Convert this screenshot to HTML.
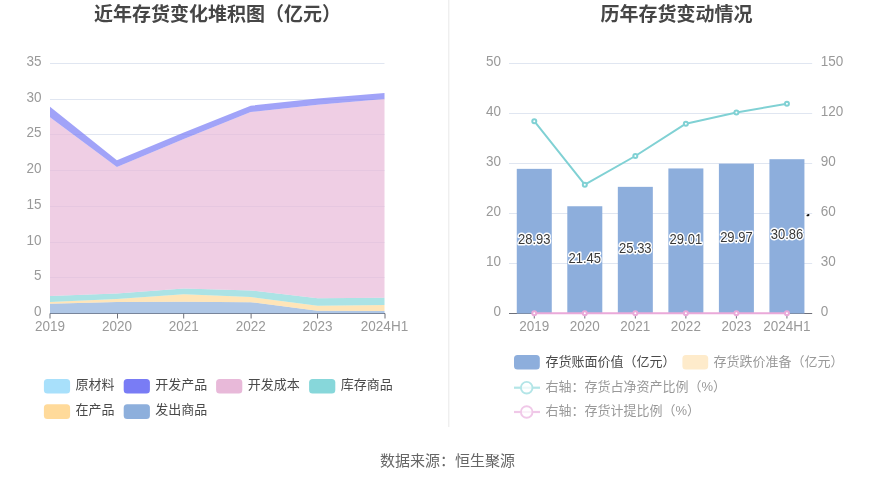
<!DOCTYPE html>
<html><head><meta charset="utf-8"><title>存货</title>
<style>
html,body{margin:0;padding:0;background:#fff;}
body{width:893px;height:481px;overflow:hidden;}
svg{display:block;}
text{font-family:"Liberation Sans", "Noto Sans CJK SC", sans-serif;}
.ax{font-size:13.5px;fill:#999;}
.ttl{font-size:19px;font-weight:bold;fill:#464646;}
.lg{font-size:13px;}
.bl{font-size:13px;fill:#383838;stroke:#fff;stroke-width:2.6px;paint-order:stroke;stroke-linejoin:round;}
.src{font-size:15px;fill:#666;}
</style></head><body>
<svg width="893" height="481" viewBox="0 0 893 481">
<line x1="50" y1="277.5" x2="384.5" y2="277.5" stroke="#E0E6F1" stroke-width="1"/>
<line x1="50" y1="242.5" x2="384.5" y2="242.5" stroke="#E0E6F1" stroke-width="1"/>
<line x1="50" y1="206.5" x2="384.5" y2="206.5" stroke="#E0E6F1" stroke-width="1"/>
<line x1="50" y1="170.5" x2="384.5" y2="170.5" stroke="#E0E6F1" stroke-width="1"/>
<line x1="50" y1="134.5" x2="384.5" y2="134.5" stroke="#E0E6F1" stroke-width="1"/>
<line x1="50" y1="99.5" x2="384.5" y2="99.5" stroke="#E0E6F1" stroke-width="1"/>
<line x1="50" y1="63.5" x2="384.5" y2="63.5" stroke="#E0E6F1" stroke-width="1"/>
<line x1="50" y1="313.5" x2="385" y2="313.5" stroke="#6E7079" stroke-width="1"/>
<path d="M50,303.7 L116.9,301.9 L183.8,301.7 L250.7,302.2 L317.6,310.7 L384.5,311.1 L384.5,313.5 L317.6,313.5 L250.7,313.5 L183.8,313.5 L116.9,313.5 L50,313.5 Z" fill="#8DAFDC" fill-opacity="0.7"/>
<path d="M50,302 L116.9,299.1 L183.8,294.2 L250.7,297.1 L317.6,305.7 L384.5,305.1 L384.5,311.1 L317.6,310.7 L250.7,302.2 L183.8,301.7 L116.9,301.9 L50,303.7 Z" fill="#FFDA9A" fill-opacity="0.7"/>
<path d="M50,296.1 L116.9,293.5 L183.8,288.4 L250.7,290.4 L317.6,298.3 L384.5,297.8 L384.5,305.1 L317.6,305.7 L250.7,297.1 L183.8,294.2 L116.9,299.1 L50,302 Z" fill="#87D7DA" fill-opacity="0.7"/>
<path d="M50,117.3 L116.9,167 L183.8,139 L250.7,112.1 L317.6,104.7 L384.5,99.1 L384.5,297.8 L317.6,298.3 L250.7,290.4 L183.8,288.4 L116.9,293.5 L50,296.1 Z" fill="#E8B9D9" fill-opacity="0.7"/>
<path d="M50,106.86 L116.9,160.29 L183.8,132.57 L250.7,105.7 L317.6,98.6 L384.5,93.07 L384.5,99.1 L317.6,104.7 L250.7,112.1 L183.8,139 L116.9,167 L50,117.3 Z" fill="#797CF5" fill-opacity="0.7"/>
<line x1="50" y1="313.5" x2="50" y2="318.5" stroke="#6E7079" stroke-width="1"/>
<line x1="117.5" y1="313.5" x2="117.5" y2="318.5" stroke="#6E7079" stroke-width="1"/>
<line x1="183.7" y1="313.5" x2="183.7" y2="318.5" stroke="#6E7079" stroke-width="1"/>
<line x1="251.1" y1="313.5" x2="251.1" y2="318.5" stroke="#6E7079" stroke-width="1"/>
<line x1="317.55" y1="313.5" x2="317.55" y2="318.5" stroke="#6E7079" stroke-width="1"/>
<line x1="385" y1="313.5" x2="385" y2="318.5" stroke="#6E7079" stroke-width="1"/>
<text transform="translate(41.6,315.9) scale(1,1.08)" text-anchor="end" class="ax">0</text>
<text transform="translate(41.6,279.9) scale(1,1.08)" text-anchor="end" class="ax">5</text>
<text transform="translate(41.6,244.9) scale(1,1.08)" text-anchor="end" class="ax">10</text>
<text transform="translate(41.6,208.9) scale(1,1.08)" text-anchor="end" class="ax">15</text>
<text transform="translate(41.6,172.9) scale(1,1.08)" text-anchor="end" class="ax">20</text>
<text transform="translate(41.6,136.9) scale(1,1.08)" text-anchor="end" class="ax">25</text>
<text transform="translate(41.6,101.9) scale(1,1.08)" text-anchor="end" class="ax">30</text>
<text transform="translate(41.6,65.9) scale(1,1.08)" text-anchor="end" class="ax">35</text>
<text transform="translate(50,331) scale(1,1.08)" text-anchor="middle" class="ax">2019</text>
<text transform="translate(116.9,331) scale(1,1.08)" text-anchor="middle" class="ax">2020</text>
<text transform="translate(183.8,331) scale(1,1.08)" text-anchor="middle" class="ax">2021</text>
<text transform="translate(250.7,331) scale(1,1.08)" text-anchor="middle" class="ax">2022</text>
<text transform="translate(317.6,331) scale(1,1.08)" text-anchor="middle" class="ax">2023</text>
<text transform="translate(384.5,331) scale(1,1.08)" text-anchor="middle" class="ax">2024H1</text>
<text x="217.5" y="21" text-anchor="middle" class="ttl">近年存货变化堆积图（亿元）</text>
<rect x="43.9" y="379" width="26.2" height="14.6" rx="3.5" ry="3.5" fill="#A8E0FB"/>
<text x="75.5" y="389" class="lg" fill="#4a4a4a">原材料</text>
<rect x="123.7" y="379" width="26.2" height="14.6" rx="3.5" ry="3.5" fill="#797CF5"/>
<text x="155.3" y="389" class="lg" fill="#4a4a4a">开发产品</text>
<rect x="216.1" y="379" width="26.2" height="14.6" rx="3.5" ry="3.5" fill="#E8B9D9"/>
<text x="247.7" y="389" class="lg" fill="#4a4a4a">开发成本</text>
<rect x="309.1" y="379" width="26.2" height="14.6" rx="3.5" ry="3.5" fill="#87D7DA"/>
<text x="340.7" y="389" class="lg" fill="#4a4a4a">库存商品</text>
<rect x="43.9" y="404.3" width="26.2" height="14.6" rx="3.5" ry="3.5" fill="#FFDA9A"/>
<text x="75.5" y="414.3" class="lg" fill="#4a4a4a">在产品</text>
<rect x="123.7" y="404.3" width="26.2" height="14.6" rx="3.5" ry="3.5" fill="#8DAFDC"/>
<text x="155.3" y="414.3" class="lg" fill="#4a4a4a">发出商品</text>
<line x1="509" y1="263.5" x2="812.2" y2="263.5" stroke="#E0E6F1" stroke-width="1"/>
<line x1="509" y1="213.5" x2="812.2" y2="213.5" stroke="#E0E6F1" stroke-width="1"/>
<line x1="509" y1="163.5" x2="812.2" y2="163.5" stroke="#E0E6F1" stroke-width="1"/>
<line x1="509" y1="113.5" x2="812.2" y2="113.5" stroke="#E0E6F1" stroke-width="1"/>
<line x1="509" y1="63.5" x2="812.2" y2="63.5" stroke="#E0E6F1" stroke-width="1"/>
<line x1="509" y1="313.5" x2="812.2" y2="313.5" stroke="#6E7079" stroke-width="1"/>
<rect x="516.77" y="168.85" width="35" height="144.65" fill="#8DAEDC"/>
<rect x="567.3" y="206.25" width="35" height="107.25" fill="#8DAEDC"/>
<rect x="617.83" y="186.85" width="35" height="126.65" fill="#8DAEDC"/>
<rect x="668.37" y="168.45" width="35" height="145.05" fill="#8DAEDC"/>
<rect x="718.9" y="163.65" width="35" height="149.85" fill="#8DAEDC"/>
<rect x="769.43" y="159.2" width="35" height="154.3" fill="#8DAEDC"/>
<line x1="534.27" y1="313.5" x2="534.27" y2="318.5" stroke="#6E7079" stroke-width="1"/>
<line x1="584.8" y1="313.5" x2="584.8" y2="318.5" stroke="#6E7079" stroke-width="1"/>
<line x1="635.33" y1="313.5" x2="635.33" y2="318.5" stroke="#6E7079" stroke-width="1"/>
<line x1="685.87" y1="313.5" x2="685.87" y2="318.5" stroke="#6E7079" stroke-width="1"/>
<line x1="736.4" y1="313.5" x2="736.4" y2="318.5" stroke="#6E7079" stroke-width="1"/>
<line x1="786.93" y1="313.5" x2="786.93" y2="318.5" stroke="#6E7079" stroke-width="1"/>
<line x1="534.27" y1="313.3" x2="786.93" y2="313.3" stroke="#EAA9D9" stroke-width="2"/>
<circle cx="534.27" cy="313.3" r="2" fill="#fff" stroke="#EAA9D9" stroke-width="2"/>
<circle cx="584.8" cy="313.3" r="2" fill="#fff" stroke="#EAA9D9" stroke-width="2"/>
<circle cx="635.33" cy="313.3" r="2" fill="#fff" stroke="#EAA9D9" stroke-width="2"/>
<circle cx="685.87" cy="313.3" r="2" fill="#fff" stroke="#EAA9D9" stroke-width="2"/>
<circle cx="736.4" cy="313.3" r="2" fill="#fff" stroke="#EAA9D9" stroke-width="2"/>
<circle cx="786.93" cy="313.3" r="2" fill="#fff" stroke="#EAA9D9" stroke-width="2"/>
<polyline points="534.27,121.17 584.8,184.67 635.33,156 685.87,123.67 736.4,112.5 786.93,103.67" fill="none" stroke="#80D1D4" stroke-width="2" stroke-linejoin="bevel"/>
<circle cx="534.27" cy="121.17" r="2" fill="#fff" stroke="#80D1D4" stroke-width="2"/>
<circle cx="584.8" cy="184.67" r="2" fill="#fff" stroke="#80D1D4" stroke-width="2"/>
<circle cx="635.33" cy="156" r="2" fill="#fff" stroke="#80D1D4" stroke-width="2"/>
<circle cx="685.87" cy="123.67" r="2" fill="#fff" stroke="#80D1D4" stroke-width="2"/>
<circle cx="736.4" cy="112.5" r="2" fill="#fff" stroke="#80D1D4" stroke-width="2"/>
<circle cx="786.93" cy="103.67" r="2" fill="#fff" stroke="#80D1D4" stroke-width="2"/>
<text transform="translate(534.27,244.18) scale(1,1.15)" text-anchor="middle" class="bl">28.93</text>
<text transform="translate(584.8,262.88) scale(1,1.15)" text-anchor="middle" class="bl">21.45</text>
<text transform="translate(635.33,253.18) scale(1,1.15)" text-anchor="middle" class="bl">25.33</text>
<text transform="translate(685.87,243.97) scale(1,1.15)" text-anchor="middle" class="bl">29.01</text>
<text transform="translate(736.4,241.57) scale(1,1.15)" text-anchor="middle" class="bl">29.97</text>
<text transform="translate(786.93,239.35) scale(1,1.15)" text-anchor="middle" class="bl">30.86</text>
<text transform="translate(501,315.9) scale(1,1.08)" text-anchor="end" class="ax">0</text>
<text transform="translate(501,265.9) scale(1,1.08)" text-anchor="end" class="ax">10</text>
<text transform="translate(501,215.9) scale(1,1.08)" text-anchor="end" class="ax">20</text>
<text transform="translate(501,165.9) scale(1,1.08)" text-anchor="end" class="ax">30</text>
<text transform="translate(501,115.9) scale(1,1.08)" text-anchor="end" class="ax">40</text>
<text transform="translate(501,65.9) scale(1,1.08)" text-anchor="end" class="ax">50</text>
<text transform="translate(820.8,315.9) scale(1,1.08)" class="ax">0</text>
<text transform="translate(820.8,265.9) scale(1,1.08)" class="ax">30</text>
<text transform="translate(820.8,215.9) scale(1,1.08)" class="ax">60</text>
<text transform="translate(820.8,165.9) scale(1,1.08)" class="ax">90</text>
<text transform="translate(820.8,115.9) scale(1,1.08)" class="ax">120</text>
<text transform="translate(820.8,65.9) scale(1,1.08)" class="ax">150</text>
<text transform="translate(534.27,331) scale(1,1.08)" text-anchor="middle" class="ax">2019</text>
<text transform="translate(584.8,331) scale(1,1.08)" text-anchor="middle" class="ax">2020</text>
<text transform="translate(635.33,331) scale(1,1.08)" text-anchor="middle" class="ax">2021</text>
<text transform="translate(685.87,331) scale(1,1.08)" text-anchor="middle" class="ax">2022</text>
<text transform="translate(736.4,331) scale(1,1.08)" text-anchor="middle" class="ax">2023</text>
<text transform="translate(786.93,331) scale(1,1.08)" text-anchor="middle" class="ax">2024H1</text>
<text x="676.5" y="21" text-anchor="middle" class="ttl">历年存货变动情况</text>
<rect x="514" y="355" width="25.8" height="14.4" rx="3.5" ry="3.5" fill="#8DAEDC"/>
<text x="545.5" y="365.9" class="lg" fill="#4a4a4a">存货账面价值（亿元）</text>
<rect x="682.4" y="355" width="25.8" height="14.4" rx="3.5" ry="3.5" fill="#FEEBCB"/>
<text x="713.5" y="365.9" class="lg" fill="#999">存货跌价准备（亿元）</text>
<line x1="514" y1="387.7" x2="540" y2="387.7" stroke="#B3E5E7" stroke-width="2.2"/>
<circle cx="526.7" cy="387.7" r="5.8" fill="#fff" fill-opacity="0.75" stroke="#B3E5E7" stroke-width="1.9"/>
<text x="545.5" y="391.1" class="lg" fill="#999">右轴：存货占净资产比例（%）</text>
<line x1="514" y1="412" x2="540" y2="412" stroke="#F0C8E8" stroke-width="2.2"/>
<circle cx="526.7" cy="412" r="5.8" fill="#fff" fill-opacity="0.75" stroke="#F0C8E8" stroke-width="1.9"/>
<text x="545.5" y="414.6" class="lg" fill="#999">右轴：存货计提比例（%）</text>
<ellipse cx="808" cy="215.2" rx="1.6" ry="1" fill="#111" transform="rotate(-20 808 215.2)"/>
<rect x="448" y="0" width="1" height="427" fill="#EFEFEF"/>
<rect x="449" y="0" width="1" height="427" fill="#F8F8F8"/>
<text x="447.4" y="466.3" text-anchor="middle" class="src">数据来源：恒生聚源</text>
</svg>
</body></html>
